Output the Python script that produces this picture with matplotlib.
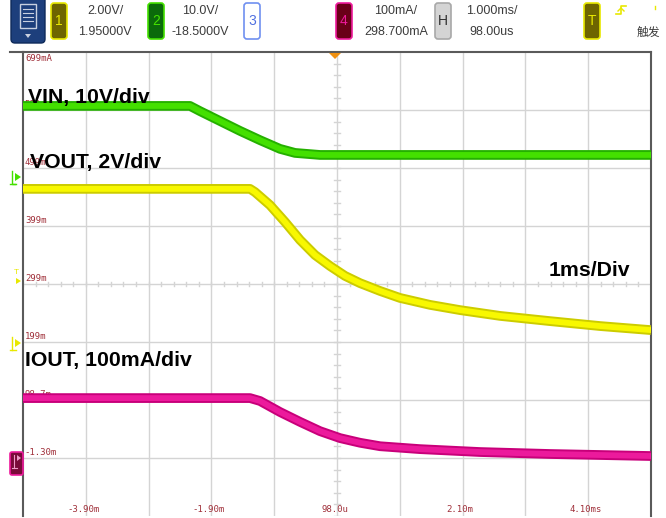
import numpy as np
import matplotlib
matplotlib.use('Agg')
import matplotlib.pyplot as plt
from matplotlib.patches import FancyBboxPatch, Rectangle, Polygon

plt.rcParams['font.family'] = ['Liberation Sans', 'Noto Sans CJK SC', 'DejaVu Sans']

# channel settings (scale per div, value at screen centre)
ch1_scale, ch1_offset = 2.0, 1.95      # VOUT [V]
ch2_scale, ch2_offset = 10.0, -18.5    # VIN [V]
ch4_scale, ch4_offset = 100.0, 298.7   # IOUT [mA]
h_scale, h_delay = 1.0, 0.098          # [ms]

# traces, time in ms
vin_t = [-4.902, -2.243, -2.083, -1.765, -1.447, -1.128, -0.810, -0.571, -0.173, 5.098]
vin_v = [12.2, 12.2, 11.3, 9.6, 7.9, 6.3, 4.8, 4.1, 3.75, 3.75]

vout_t = [-4.902, -1.287, -1.208, -0.969, -0.730, -0.491, -0.252, -0.013, 0.225,
          0.464, 0.783, 1.100, 1.579, 2.057, 2.694, 3.490, 4.286, 5.098]
vout_v = [5.23, 5.23, 5.12, 4.67, 4.09, 3.47, 2.95, 2.57, 2.23,
          1.98, 1.71, 1.47, 1.23, 1.05, 0.85, 0.67, 0.50, 0.36]

iout_t = [-4.902, -1.287, -1.128, -0.810, -0.491, -0.173, 0.146, 0.464, 0.783,
          1.420, 2.375, 3.490, 5.098]
iout_i = [102, 102, 97, 78, 61, 45, 33, 25, 19, 14, 9, 5.6, 2.1]

ylabels = ['699mA', '599m', '499m', '399m', '299m', '199m', '98.7m', '-1.30m']
xlabels = ['-3.90m', '-1.90m', '98.0u', '2.10m', '4.10ms']
xlabel_pos = [-3.902, -1.902, 0.098, 2.098, 4.098]

def to_screen(v, scale, offset):
    # convert a channel value into the ch4 (mA) graticule units
    div = (np.array(v) - offset) / scale
    return ch4_offset + div * ch4_scale

fig = plt.figure(figsize=(6.66, 5.18), dpi=100)
W, H = 666, 518
ax = fig.add_axes([23 / W, 2 / H, 628 / W, 464 / H])
x0, x1 = h_delay - 5 * h_scale, h_delay + 5 * h_scale
y0, y1 = ch4_offset - 4 * ch4_scale, ch4_offset + 4 * ch4_scale
ax.set_xlim(x0, x1)
ax.set_ylim(y0, y1)
ax.set_xticks([])
ax.set_yticks([])
ax.spines['bottom'].set_visible(False)
for s in ['left', 'right', 'top']:
    ax.spines[s].set_color('#5a5a5a')
    ax.spines[s].set_linewidth(1.5)

# graticule
grid_c = '#d4d4d4'
for k in range(1, 10):
    ax.axvline(x0 + k * h_scale, color=grid_c, lw=1, zorder=1)
for k in range(1, 8):
    ax.axhline(y0 + k * ch4_scale, color=grid_c, lw=1, zorder=1)
# minor ticks on centre lines
for k in range(50):
    xt = x0 + k * h_scale / 5
    ax.plot([xt, xt], [ch4_offset - 4, ch4_offset + 4], color=grid_c, lw=1, zorder=1)
for k in range(40):
    yt = y0 + k * ch4_scale / 5
    ax.plot([h_delay - 0.05, h_delay + 0.05], [yt, yt], color=grid_c, lw=1, zorder=1)

# graticule labels
lab_c = '#a0303a'
for k, lab in enumerate(ylabels):
    yv = y1 - k * ch4_scale
    if k == 0:
        ax.text(x0 + 0.03, yv - 3, lab, color=lab_c, fontsize=6.5, family='DejaVu Sans Mono',
                va='top', ha='left', zorder=2)
    else:
        ax.text(x0 + 0.03, yv + 2, lab, color=lab_c, fontsize=6.5, family='DejaVu Sans Mono',
                va='bottom', ha='left', zorder=2)
for xp, lab in zip(xlabel_pos, xlabels):
    ax.text(xp - 0.04, y0 + 4, lab, color=lab_c, fontsize=6.5, family='DejaVu Sans Mono',
            va='bottom', ha='center', zorder=2)

# traces
traces = [
    (vin_t, to_screen(vin_v, ch2_scale, ch2_offset), '#25b000', '#44e000'),
    (vout_t, to_screen(vout_v, ch1_scale, ch1_offset), '#cccc00', '#f8f800'),
    (iout_t, to_screen(iout_i, ch4_scale, ch4_offset), '#c8007a', '#ec1a9c'),
]
for t, y, dark, light in traces:
    ax.plot(t, y, color=dark, lw=7, solid_capstyle='butt', zorder=3)
    ax.plot(t, y, color=light, lw=4.2, solid_capstyle='butt', zorder=4)

# annotations
ax.text(x0 + 0.08, 620, 'VIN, 10V/div', fontsize=15.3, fontweight='bold', va='center', zorder=5)
ax.text(x0 + 0.11, 509, 'VOUT, 2V/div', fontsize=15.3, fontweight='bold', va='center', zorder=5)
ax.text(x0 + 0.03, 166, 'IOUT, 100mA/div', fontsize=15.3, fontweight='bold', va='center', zorder=5)
ax.text(4.12, 322, '1ms/Div', fontsize=15.3, fontweight='bold', va='center', ha='center', zorder=5)

# overlay in pixel coordinates for the scope header and side markers
ov = fig.add_axes([0, 0, 1, 1], facecolor='none')
ov.set_xlim(0, W)
ov.set_ylim(H, 0)
ov.axis('off')

# extend top border to the left
ov.plot([10, 24], [52, 52], color='#5a5a5a', lw=1.5)

# menu icon
ov.add_patch(FancyBboxPatch((11, -8), 34, 51, boxstyle='round,pad=0,rounding_size=4',
                            fc='#1d3f7c', ec='#0e2a5a', lw=1))
ov.add_patch(Rectangle((20, 4), 16, 24, fc='none', ec='#c8d0e0', lw=1))
for yy in [9, 13, 17, 21]:
    ov.plot([23, 33], [yy, yy], color='#c8d0e0', lw=0.8)
ov.add_patch(Polygon([[25, 34], [31, 34], [28, 38]], closed=True, fc='#c8d0e0', ec='none'))

def chan_box(x, label, fc, ec, tc):
    ov.add_patch(FancyBboxPatch((x, 3), 16, 36, boxstyle='round,pad=0,rounding_size=3',
                                fc=fc, ec=ec, lw=1.2))
    ov.text(x + 8, 21, label, color=tc, fontsize=10, ha='center', va='center')

chan_box(51, '1', '#6e6500', '#e8e800', '#e8e800')
chan_box(148, '2', '#0b6a0b', '#44e000', '#44e000')
chan_box(244, '3', 'white', '#7090f0', '#5070e0')
chan_box(336, '4', '#6a0018', '#ee1a9c', '#ee1a9c')
chan_box(435, 'H', '#d4d4d4', '#a8a8a8', '#303030')
chan_box(584, 'T', '#6e6500', '#e8e800', '#e8e800')

hdr_c = '#3c3c3c'
for xc, top, bot in [(105, '2.00V/', '1.95000V'), (200, '10.0V/', '-18.5000V'),
                     (396, '100mA/', '298.700mA'), (492, '1.000ms/', '98.00us')]:
    ov.text(xc, 11, top, color=hdr_c, fontsize=9, ha='center', va='center')
    ov.text(xc, 32, bot, color=hdr_c, fontsize=9, ha='center', va='center')
# rising edge trigger symbol
ov.plot([616, 621, 621, 626], [14, 14, 6, 6], color='#e8e800', lw=1.2)
ov.plot([618, 621, 624], [11, 8, 11], color='#e8e800', lw=1)
ov.plot([655, 655], [6, 9], color='#e8e800', lw=1)
ov.text(648, 32, '触发', color=hdr_c, fontsize=8.5, ha='center', va='center',
        family=['Noto Sans CJK SC', 'DejaVu Sans'])

# trigger position marker at the top
ov.add_patch(Polygon([[329, 53], [341, 53], [335, 59]], closed=True, fc='#f09010', ec='none'))

# ground / trigger markers on the left
ov.add_patch(Polygon([[15, 173], [21, 177], [15, 181]], closed=True, fc='#44e000', ec='none'))
ov.plot([12, 12, 15], [171, 184, 184], color='#44e000', lw=1)
ov.plot([10, 16], [184, 184], color='#44e000', lw=1)
ov.text(16, 273, 'T', color='#e8e800', fontsize=6, ha='center', va='center')
ov.add_patch(Polygon([[16, 278], [21, 281], [16, 284]], closed=True, fc='#e8e800', ec='none'))
ov.add_patch(Polygon([[15, 339], [21, 343], [15, 347]], closed=True, fc='#e8e800', ec='none'))
ov.plot([12, 12], [337, 350], color='#e8e800', lw=1)
ov.plot([10, 16], [350, 350], color='#e8e800', lw=1)
ov.add_patch(FancyBboxPatch((10, 452), 13, 23, boxstyle='round,pad=0,rounding_size=2',
                            fc='#7a0a3a', ec='#ee1a9c', lw=1.2))
ov.plot([14, 14], [455, 468], color='#ee9ac8', lw=0.8)
ov.plot([12, 17], [468, 468], color='#ee9ac8', lw=0.8)
ov.add_patch(Polygon([[17, 455], [21, 458], [17, 461]], closed=True, fc='#ee9ac8', ec='none'))

fig.savefig('out.png', dpi=100)
